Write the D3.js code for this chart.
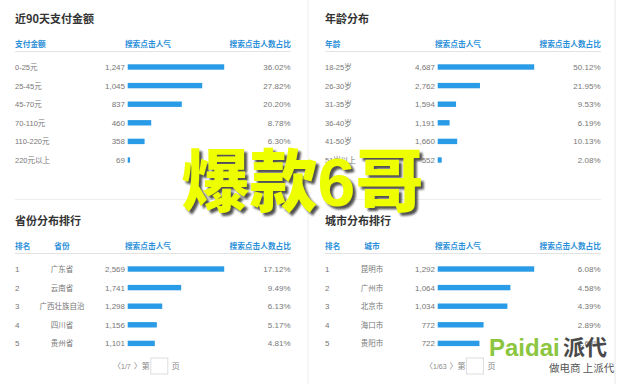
<!DOCTYPE html>
<html>
<head>
<meta charset="utf-8">
<script src="https://cdn.jsdelivr.net/npm/d3@7"></script>
<style>
  body { margin: 0; background: #fff; }
  svg text { font-family: "Liberation Sans", "Noto Sans CJK SC", sans-serif; }
</style>
</head>
<body>
<svg id="chart" width="620" height="384"></svg>
<script>
// panel 1: payment amount last 90 days
var payLabels = ["0-25元", "25-45元", "45-70元", "70-110元", "110-220元", "220元以上"];
var payClicks = [1247, 1045, 837, 460, 358, 69];
var payShare  = [36.02, 27.82, 20.20, 8.78, 6.30, 0.88];

// panel 2: age
var ageLabels = ["18-25岁", "26-30岁", "31-35岁", "36-40岁", "41-50岁", "51岁以上"];
var ageClicks = [4687, 2762, 1594, 1191, 1660, 552];
var ageShare  = [50.12, 21.95, 9.53, 6.19, 10.13, 2.08];

// panel 3: provinces
var provRank   = [1, 2, 3, 4, 5];
var provLabels = ["广东省", "云南省", "广西壮族自治", "四川省", "贵州省"];
var provClicks = [2569, 1741, 1298, 1156, 1101];
var provShare  = [17.12, 9.49, 6.13, 5.17, 4.81];

// panel 4: cities
var cityRank   = [1, 2, 3, 4, 5];
var cityLabels = ["昆明市", "广州市", "北京市", "海口市", "贵阳市"];
var cityClicks = [1292, 1064, 1034, 772, 722];
var cityShare  = [6.08, 4.58, 4.39, 2.89, 2.63];

var svg = d3.select("#chart");
var fmt = d3.format(",");
var barColor = "#2a9be6";
var blue = "#2b8fd9";
var grey = "#777";

// panel dividers
svg.append("line").attr("x1", 308).attr("x2", 308).attr("y1", 0).attr("y2", 384)
  .style("stroke", "#eee");
svg.append("line").attr("x1", 615).attr("x2", 615).attr("y1", 0).attr("y2", 384)
  .style("stroke", "#e6e6e6");

/* draws one table-like panel with inline bars */
function drawPanel(ox, top, title, labels, clicks, share, rank, headLabel, pages, shownShare) {
  var g = svg.append("g").attr("transform", "translate(" + ox + ",0)");
  var ranked = rank !== null;

  g.append("text")
    .attr("x", 15).attr("y", top)
    .style("font-family", "Noto Sans CJK SC").style("font-size", "11px")
    .style("font-weight", "bold").style("fill", "#333")
    .text(title);

  var headY = top + 24;
  var head = g.append("g").style("font-family", "Noto Sans CJK SC")
    .style("font-size", "7.7px").style("font-weight", "bold").style("fill", blue);
  if (ranked) {
    head.append("text").attr("x", 15).attr("y", headY).text("排名");
    head.append("text").attr("x", 62).attr("y", headY).attr("text-anchor", "middle").text(headLabel);
  } else {
    head.append("text").attr("x", 15).attr("y", headY).text(headLabel);
  }
  head.append("text").attr("x", 148).attr("y", headY).attr("text-anchor", "middle").text("搜索点击人气");
  head.append("text").attr("x", 291).attr("y", headY).attr("text-anchor", "end").text("搜索点击人数占比");

  g.append("line").attr("x1", 15).attr("x2", 291)
    .attr("y1", headY + 4.5).attr("y2", headY + 4.5)
    .style("stroke", "#e3e3e3");

  var n = labels.length;
  var y = d3.scalePoint().domain(d3.range(n)).range([headY + 20, headY + 20 + (n - 1) * 18.6]);
  var x = d3.scaleLinear().domain([0, d3.max(share)]).range([0, 96.5]);

  var rows = g.selectAll(".row").data(d3.range(n)).enter()
    .append("g").attr("class", "row")
    .attr("transform", function(i) { return "translate(0," + y(i) + ")"; });

  if (ranked) {
    rows.append("text").attr("x", 15).attr("y", 3)
      .style("font-size", "8px").style("fill", grey)
      .text(function(i) { return rank[i]; });
    rows.append("text").attr("x", 62).attr("y", 3).attr("text-anchor", "middle")
      .style("font-family", "Noto Sans CJK SC")
      .style("font-size", "7.5px").style("fill", grey)
      .text(function(i) { return labels[i]; });
  } else {
    rows.append("text").attr("x", 15).attr("y", 3)
      .style("font-size", "7.5px").style("fill", grey)
      .text(function(i) { return labels[i]; });
  }

  rows.append("text").attr("x", 125).attr("y", 3).attr("text-anchor", "end")
    .style("font-size", "8px").style("fill", grey)
    .text(function(i) { return fmt(clicks[i]); });

  rows.append("rect")
    .attr("x", 127.7).attr("y", -2.7)
    .attr("width", function(i) { return Math.max(2, x(share[i])); })
    .attr("height", 5.4)
    .style("fill", barColor);

  rows.filter(function(i) { return shownShare[i]; })
    .append("text").attr("x", 290.5).attr("y", 3).attr("text-anchor", "end")
    .style("font-size", "8px").style("fill", grey)
    .text(function(i) { return share[i].toFixed(2) + "%"; });

  if (pages) {
    var py = 369;
    var pg = g.append("g").style("font-size", "8px").style("fill", "#888");
    var pstart = pages === "1/7" ? 113 : 115;
    pg.append("text").attr("x", pstart).attr("y", py).text("〈");
    pg.append("text").attr("x", pstart + 8).attr("y", py).style("font-size", "7px").text(pages);
    var after = pstart + 8 + (pages.length * 3.6) + 2;
    pg.append("text").attr("x", after).attr("y", py).text("〉");
    pg.append("text").attr("x", after + 8).attr("y", py).style("font-family", "Noto Sans CJK SC").text("第");
    pg.append("rect").attr("x", after + 17).attr("y", py - 11).attr("width", 17).attr("height", 16)
      .style("fill", "#fff").style("stroke", "#ddd");
    pg.append("text").attr("x", after + 38).attr("y", py).style("font-family", "Noto Sans CJK SC").text("页");
  }
  return g;
}

drawPanel(0, 23, "近90天支付金额", payLabels, payClicks, payShare, null, "支付金额", null,
  [true, true, true, true, true, false]);
drawPanel(310, 23, "年龄分布", ageLabels, ageClicks, ageShare, null, "年龄", null,
  [true, true, true, true, true, true]);

// separator between top and bottom halves
svg.append("line").attr("x1", 15).attr("x2", 291).attr("y1", 199.5).attr("y2", 199.5).style("stroke", "#eee");
svg.append("line").attr("x1", 325).attr("x2", 601).attr("y1", 199.5).attr("y2", 199.5).style("stroke", "#eee");

drawPanel(0, 225, "省份分布排行", provLabels, provClicks, provShare, provRank, "省份", "1/7",
  [true, true, true, true, true]);
drawPanel(310, 225, "城市分布排行", cityLabels, cityClicks, cityShare, cityRank, "城市", "1/63",
  [true, true, true, true, true]);

// watermark
var mark = svg.append("g").style("font-family", "Noto Sans CJK SC")
  .style("font-size", "68px").style("font-weight", "900");
mark.append("text").attr("x", 305.5).attr("y", 208.5).attr("text-anchor", "middle")
  .style("fill", "#333").style("opacity", 0.85).style("filter", "blur(1.2px)")
  .text("爆款6哥");
mark.append("text").attr("x", 302.5).attr("y", 205.5).attr("text-anchor", "middle")
  .style("fill", "#eeff00")
  .text("爆款6哥");

// logo
var logo = svg.append("g");
logo.append("text").attr("x", 489).attr("y", 356)
  .style("font-family", "Liberation Sans").style("font-size", "24px").style("font-weight", "bold")
  .style("fill", "#8cc63f").text("Paidai");
logo.append("text").attr("x", 563).attr("y", 355)
  .style("font-family", "Noto Sans CJK SC").style("font-size", "22px").style("font-weight", "bold")
  .style("fill", "#4a4a4a").text("派代");
logo.append("text").attr("x", 549).attr("y", 372)
  .style("font-family", "Noto Sans CJK SC").style("font-size", "10.5px")
  .style("fill", "#555").text("做电商 上派代");
</script>
</body>
</html>
